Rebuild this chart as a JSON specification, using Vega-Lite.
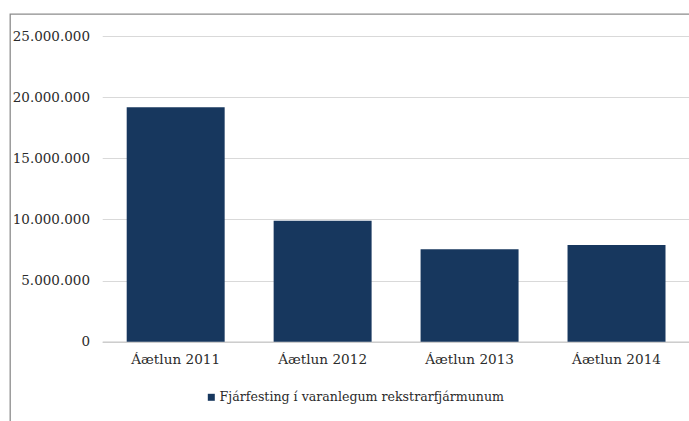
{
  "$schema": "https://vega.github.io/schema/vega-lite/v6.json",
  "autosize": {"type": "none"},
  "padding": {"left": 10, "top": 14, "right": 0, "bottom": 0},
  "width": 679,
  "height": 407,
  "background": "white",
  "data": {
    "values": [
      {"plan": "Áætlun 2011", "value": 19170000, "series": "Fjárfesting í varanlegum rekstrarfjármunum"},
      {"plan": "Áætlun 2012", "value": 9900000, "series": "Fjárfesting í varanlegum rekstrarfjármunum"},
      {"plan": "Áætlun 2013", "value": 7560000, "series": "Fjárfesting í varanlegum rekstrarfjármunum"},
      {"plan": "Áætlun 2014", "value": 7910000, "series": "Fjárfesting í varanlegum rekstrarfjármunum"}
    ]
  },
  "mark": {"type": "bar"},
  "encoding": {
    "x": {
      "field": "plan",
      "type": "nominal",
      "sort": null,
      "scale": {"range": [92.2, 680], "paddingInner": 0.3333, "paddingOuter": 0.1667},
      "axis": {
        "title": null,
        "labelAngle": 0,
        "offset": -79.3,
        "ticks": false,
        "tickSize": 0,
        "domainColor": "#c8c8c8",
        "domainWidth": 1.2,
        "labelPadding": 11,
        "labelFontSize": 13.6,
        "labelColor": "#2b2b2b",
        "labelFont": "DejaVu Serif"
      }
    },
    "y": {
      "field": "value",
      "type": "quantitative",
      "scale": {"domain": [0, 25000000], "range": [327.7, 22], "nice": false},
      "axis": {
        "title": null,
        "values": [0, 5000000, 10000000, 15000000, 20000000, 25000000],
        "format": ",d",
        "offset": -92.2,
        "domain": false,
        "ticks": false,
        "tickSize": 0,
        "labelPadding": 12.7,
        "labelFontSize": 13.5,
        "labelColor": "#2b2b2b",
        "labelFont": "DejaVu Serif",
        "grid": true,
        "gridColor": "#d9d9d9",
        "gridWidth": 1.2
      }
    },
    "color": {
      "field": "series",
      "type": "nominal",
      "scale": {"range": ["#17375E"]},
      "legend": {
        "title": null,
        "orient": "none",
        "legendX": 195,
        "legendY": 377,
        "symbolType": "square",
        "symbolSize": 49,
        "symbolStrokeWidth": 0,
        "labelFontSize": 12.6,
        "labelFont": "DejaVu Serif",
        "labelColor": "#2b2b2b",
        "labelOffset": 2,
        "labelLimit": 500
      }
    }
  },
  "config": {
    "font": "DejaVu Serif",
    "locale": {
      "number": {"decimal": ",", "thousands": ".", "grouping": [3], "currency": ["", " kr."]}
    },
    "view": {"stroke": "#8c8c8c", "strokeWidth": 1.3, "strokeDash": [679, 1086, 407, 0]}
  }
}
